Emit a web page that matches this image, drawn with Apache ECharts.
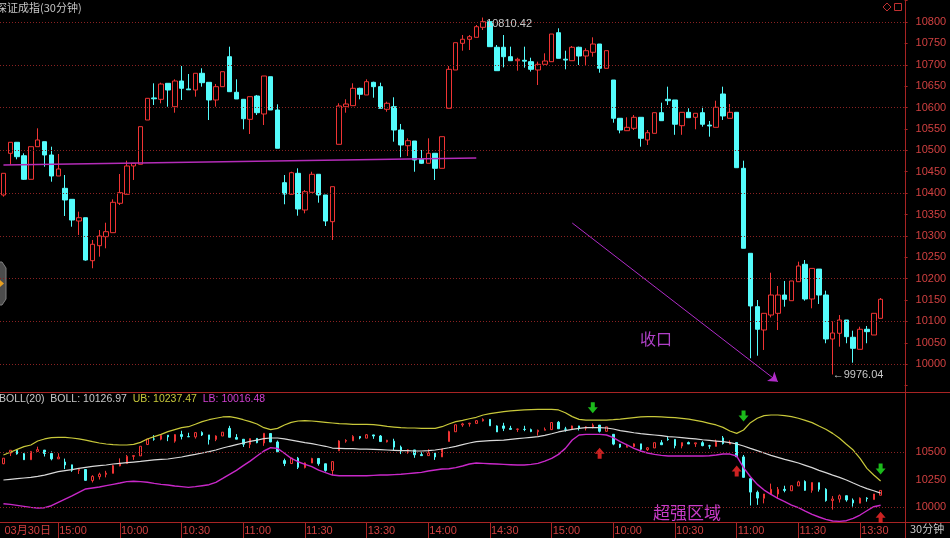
<!DOCTYPE html>
<html>
<head>
<meta charset="utf-8">
<script src="https://cdn.jsdelivr.net/npm/echarts/dist/echarts.min.js"></script>
<style>
html,body{margin:0;padding:0;background:#000;}
#c{width:950px;height:538px;}
</style>
</head>
<body>
<div id="c"></div>
<script>
// ---------- DATA ----------
const candleOpen = [10395.6,10493.0,10518.8,10487.4,10432.3,10508.5,10520.2,10489.1,10440.0,10411.2,
10385.5,10334.8,10342.5,10242.0,10277.1,10298.1,10307.5,10376.2,10397.2,10463.4,
10467.4,10570.9,10622.5,10619.3,10656.7,10602.0,10662.1,10643.5,10641.0,10680.1,
10659.0,10617.7,10648.8,10718.9,10635.7,10619.3,10572.5,10627.0,10585.0,10672.1,
10594.3,10424.4,10397.2,10446.3,10360.5,10401.9,10444.0,10395.6,10333.2,10514.1,
10602.0,10604.4,10645.0,10629.4,10659.0,10648.8,10595.9,10602.0,10547.5,10510.8,
10521.8,10479.0,10469.7,10493.1,10458.0,10598.3,10687.8,10750.2,10759.6,10764.2,
10787.6,10800.7,10740.9,10740.9,10718.9,10709.5,10710.5,10707.2,10687.8,10701.1,
10707.2,10775.0,10713.0,10709.5,10740.9,10720.5,10729.2,10748.5,10691.8,10664.4,
10574.9,10545.9,10551.5,10577.2,10524.2,10539.8,10588.0,10619.3,10617.7,10557.6,
10588.9,10577.2,10588.0,10559.0,10553.8,10631.7,10574.9,10588.9,10458.0,10259.3,
10134.5,10080.0,10115.0,10119.0,10161.8,10148.5,10192.9,10233.6,10152.5,10222.4,
10161.8,10059.0,10072.3,10103.4,10063.0,10034.9,10081.7,10068.3,10107.3];
const candleClose = [10446.3,10518.8,10485.1,10432.3,10508.5,10524.2,10489.1,10440.0,10456.4,10383.9,
10337.1,10342.5,10243.6,10280.4,10299.8,10309.8,10378.5,10401.0,10463.4,10469.7,
10555.3,10621.6,10620.5,10655.0,10641.0,10662.1,10645.0,10641.5,10680.1,10658.1,
10617.7,10648.8,10683.8,10637.1,10620.0,10573.9,10625.4,10588.0,10673.8,10594.3,
10504.8,10397.9,10447.7,10362.9,10403.3,10444.0,10395.6,10334.8,10415.0,10603.6,
10608.3,10645.0,10631.0,10660.4,10648.8,10598.3,10610.0,10547.5,10512.5,10522.5,
10477.4,10469.7,10493.1,10458.0,10531.9,10689.4,10751.6,10759.6,10765.6,10789.0,
10800.7,10742.3,10686.2,10718.9,10709.5,10712.8,10708.5,10689.4,10701.1,10708.8,
10771.9,10715.1,10711.0,10740.9,10720.5,10732.9,10748.5,10691.8,10732.9,10574.9,
10547.5,10553.8,10577.2,10528.1,10541.2,10588.0,10569.3,10616.0,10561.0,10588.9,
10576.3,10586.6,10560.9,10557.0,10600.6,10580.3,10588.9,10459.4,10271.0,10136.2,
10081.7,10119.0,10161.8,10161.8,10151.8,10194.6,10229.6,10152.5,10224.0,10161.8,
10059.0,10073.0,10103.4,10064.4,10037.2,10081.7,10076.1,10119.0,10151.8];
const candleLow = [10391.6,10465.7,10479.0,10430.7,10432.3,10508.5,10461.7,10426.7,10440.0,10346.5,
10321.5,10302.1,10242.0,10224.3,10251.4,10271.0,10307.5,10372.2,10397.2,10430.7,
10467.4,10570.9,10606.0,10609.9,10602.0,10588.0,10617.7,10641.0,10625.4,10648.8,
10570.9,10602.0,10648.8,10637.1,10620.0,10549.2,10538.2,10582.6,10559.2,10594.3,
10504.8,10373.9,10397.2,10347.2,10352.8,10401.9,10377.6,10323.1,10290.4,10514.1,
10588.0,10604.4,10619.3,10629.4,10623.0,10598.3,10590.3,10520.2,10483.7,10486.8,
10450.0,10468.0,10469.7,10430.7,10458.0,10598.3,10687.8,10732.9,10734.5,10764.2,
10781.3,10742.3,10686.2,10694.1,10709.5,10686.2,10693.2,10684.2,10652.7,10701.1,
10707.2,10715.1,10689.4,10709.5,10699.5,10699.5,10718.9,10681.5,10691.8,10564.6,
10539.8,10545.9,10547.5,10508.5,10512.5,10539.8,10569.3,10606.0,10536.3,10536.3,
10576.3,10549.2,10555.3,10531.9,10553.8,10571.0,10574.9,10459.4,10271.0,10013.9,
10019.9,10033.3,10109.5,10080.0,10134.5,10148.5,10192.9,10148.5,10130.7,10140.8,
10049.0,9976.04,10041.0,10049.0,10003.6,10034.9,10049.0,10068.3,10107.3];
const candleHigh = [10446.3,10518.8,10519.5,10493.0,10508.5,10551.5,10520.2,10508.5,10491.4,10442.3,
10386.2,10356.6,10342.5,10290.4,10313.8,10330.8,10385.5,10444.7,10475.8,10469.7,
10555.3,10621.6,10656.7,10658.1,10656.7,10666.0,10697.1,10678.4,10680.1,10691.8,
10659.0,10655.1,10683.8,10742.3,10666.0,10619.3,10625.4,10629.4,10673.8,10672.1,
10607.6,10442.3,10450.0,10458.0,10407.3,10450.0,10444.0,10395.6,10415.0,10610.0,
10619.3,10656.7,10646.4,10666.0,10660.4,10658.1,10613.7,10624.0,10561.6,10528.1,
10521.8,10500.8,10528.1,10493.1,10531.9,10697.1,10751.6,10769.6,10769.6,10793.0,
10810.42,10802.3,10746.2,10769.6,10742.3,10716.5,10742.3,10716.5,10707.2,10726.8,
10771.9,10785.3,10732.9,10743.9,10742.3,10738.5,10764.2,10748.5,10732.9,10664.4,
10574.9,10577.2,10582.6,10577.2,10547.5,10588.0,10611.4,10648.8,10617.7,10588.9,
10598.3,10586.6,10602.0,10568.6,10616.0,10648.8,10608.3,10588.9,10475.8,10259.3,
10150.1,10119.0,10213.9,10182.9,10194.6,10194.6,10239.7,10243.6,10224.0,10222.4,
10171.9,10100.3,10115.0,10103.4,10078.4,10087.7,10089.4,10119.0,10154.8];

const bollUpper = [10475,10500,10527,10552,10567,10603,10622,10634,10637,10637,
10631,10622,10612,10597,10585,10576,10570,10567,10567,10573,
10591,10622,10643,10664,10689,10707,10725,10734,10756,10780,
10798,10811,10823,10826,10814,10798,10780,10759,10725,10707,
10719,10750,10774,10786,10789,10786,10780,10774,10768,10762,
10759,10756,10756,10756,10753,10747,10737,10731,10725,10722,
10722,10719,10719,10719,10734,10759,10780,10792,10807,10820,
10841,10853,10862,10871,10878,10884,10887,10890,10893,10893,
10893,10887,10862,10826,10801,10795,10795,10795,10795,10798,
10804,10811,10817,10823,10826,10826,10823,10820,10817,10811,
10804,10792,10780,10765,10750,10728,10695,10673,10704,10771,
10811,10835,10841,10841,10835,10826,10811,10792,10771,10740,
10710,10673,10628,10573,10521,10445,10353,10293,10237.47];
const bollMid = [10247,10253,10259,10265,10271,10280,10292,10308,10323,10332,
10341,10353,10363,10372,10378,10384,10393,10399,10405,10411,
10417,10424,10430,10436,10439,10448,10457,10469,10481,10494,
10506,10521,10539,10555,10570,10585,10600,10612,10625,10631,
10631,10622,10612,10600,10588,10579,10567,10555,10539,10536,
10533,10533,10530,10530,10527,10524,10521,10518,10515,10515,
10512,10512,10515,10521,10530,10542,10555,10570,10585,10597,
10603,10606,10609,10612,10619,10625,10631,10637,10643,10655,
10670,10686,10698,10710,10719,10725,10725,10725,10722,10713,
10698,10689,10679,10670,10664,10658,10652,10643,10640,10634,
10628,10622,10615,10609,10603,10597,10588,10576,10558,10536,
10515,10494,10472,10454,10436,10420,10402,10381,10360,10335,
10314,10292,10271,10247,10219,10192,10168,10149,10126.97];
const bollLower = [10030,10024,10015,10006,9997,9991,9994,10012,10043,10073,
10101,10134,10165,10174,10183,10195,10207,10219,10232,10235,
10232,10226,10216,10207,10201,10192,10186,10180,10186,10195,
10204,10226,10262,10299,10335,10378,10420,10466,10512,10542,
10536,10491,10445,10414,10390,10369,10338,10314,10292,10286,
10286,10286,10286,10286,10289,10292,10292,10296,10299,10305,
10311,10317,10329,10338,10347,10350,10360,10375,10393,10402,
10399,10396,10393,10390,10387,10384,10384,10390,10399,10420,
10445,10481,10536,10612,10658,10664,10664,10664,10658,10634,
10597,10567,10536,10512,10494,10481,10472,10466,10466,10466,
10466,10466,10466,10469,10475,10484,10484,10466,10360,10277,
10207,10155,10116,10079,10049,10018,9994,9963,9933,9909,
9887,9872,9869,9875,9896,9927,9966,10003,10016.48];

const timeLabelText = ['03月30日','15:00','10:00','10:30','11:00','11:30','13:30','14:00','14:30','15:00','10:00','10:30','11:00','11:30','13:30'];
const timeLabelIndex = [0,8,17,26,35,44,53,62,71,80,89,98,107,116,125];
const mainGridLevels = [10000,10100,10200,10300,10400,10500,10600,10700,10800];
const bollGridLevels = [10000,10500];
const trendLine = [[0,10465.7],[69,10482.0]];
const narrowArrow = [[83,10330.1],[113,9959.2]];
const highMark = [70,10810.42];
const lowMark = [121,9976.04];
const greenSignals = [[86,10907.7],[108,10831.8],[128,10347.3]];
const redSignals = [[87,10490.9],[107,10329.1],[128,9905.8]];

// ---------- BUILD ----------
const NCAT = 132;
const categories = Array.from({length: NCAT}, (_, i) => 'k' + i);
const labelMap = {};
timeLabelIndex.forEach((idx, k) => { labelMap[idx] = timeLabelText[k]; });
const candles = candleOpen.map((o, i) => [o, candleClose[i], candleLow[i], candleHigh[i]]);

const RED = '#f03434', CYAN = '#54fcfc', FRAME = '#a82424', AXTXT = '#d04040';
const FONT = 'Liberation Sans, Arial, Noto Sans CJK SC, sans-serif';
const CJK = 'Noto Sans CJK SC, sans-serif';

const chart = echarts.init(document.getElementById('c'), null, {renderer: 'canvas'});
const last = bollMid.length - 1;

chart.setOption({
  backgroundColor: '#000',
  animation: false,
  grid: [
    {left: -1.8, width: 906.4, top: 0.61, height: 385.0},
    {left: -1.8, width: 906.4, top: 397.6, height: 123.1}
  ],
  xAxis: [
    {type: 'category', gridIndex: 0, data: categories, boundaryGap: true, show: false},
    {type: 'category', gridIndex: 1, data: categories, boundaryGap: true, offset: 1.5,
     axisLine: {show: false},
     axisTick: {show: true, alignWithLabel: true, length: 16, lineStyle: {color: FRAME},
       interval: (i) => labelMap[i] !== undefined && i !== 0},
     axisLabel: {show: true, interval: (i) => labelMap[i] !== undefined,
       formatter: (v, i) => labelMap[i] || '', align: 'left', margin: 3,
       padding: [0,0,0,1], color: AXTXT, fontSize: 11, fontFamily: FONT},
     splitLine: {show: false}}
  ],
  yAxis: [
    {type: 'value', gridIndex: 0, position: 'right', min: 9950, max: 10850, interval: 50,
     axisLine: {show: false},
     axisTick: {show: true, length: 3, lineStyle: {color: FRAME}},
     axisLabel: {color: AXTXT, fontSize: 11, fontFamily: FONT, margin: 11,
       formatter: (v) => (v <= 9950 || v >= 10850) ? '' : String(v)},
     splitLine: {show: false}},
    {type: 'value', gridIndex: 1, position: 'right', min: 9875, max: 11000, interval: 125,
     axisLine: {show: false},
     axisTick: {show: false},
     axisLabel: {color: AXTXT, fontSize: 11, fontFamily: FONT, margin: 11,
       formatter: (v) => (v % 250 === 0 && v <= 10500) ? String(v) : ''},
     splitLine: {show: false}}
  ],
  series: [
    {type: 'candlestick', xAxisIndex: 0, yAxisIndex: 0, data: candles, barWidth: 5,
     itemStyle: {color: 'rgba(0,0,0,0)', color0: CYAN, borderColor: RED, borderColor0: CYAN, borderWidth: 1},
     markLine: {silent: true, symbol: ['none','none'], label: {show: false},
       lineStyle: {color: '#8a2222', type: [1,2], width: 1},
       data: mainGridLevels.map(v => ({yAxis: v}))},
     markPoint: {silent: true, symbol: 'circle', symbolSize: 0,
       data: [
         {coord: highMark, label: {show: true, position: 'right', distance: 3, offset: [0, 6],
           formatter: String(highMark[1].toFixed(2)), color: '#c8c8c8', fontSize: 11, fontFamily: FONT}},
         {coord: lowMark, label: {show: true, position: 'right', distance: 0, offset: [0, 0],
           formatter: '\u2190' + lowMark[1].toFixed(2), color: '#c8c8c8', fontSize: 11, fontFamily: FONT}}
       ]}},
    {type: 'line', xAxisIndex: 0, yAxisIndex: 0, data: trendLine, symbol: 'none',
     lineStyle: {color: '#b42cb8', width: 1.5}, silent: true,
     markLine: {silent: true, symbol: ['none','arrow'], symbolSize: 9, label: {show: false},
       lineStyle: {color: '#b02cc8', width: 1, type: 'solid'},
       data: [[{coord: narrowArrow[0]}, {coord: narrowArrow[1]}]]}},
    {type: 'candlestick', xAxisIndex: 1, yAxisIndex: 1, data: candles, barWidth: 2, clip: false,
     itemStyle: {color: 'rgba(0,0,0,0)', color0: CYAN, borderColor: RED, borderColor0: CYAN, borderWidth: 1}},
    {type: 'line', xAxisIndex: 1, yAxisIndex: 1, data: bollMid, symbol: 'none', clip: false,
     lineStyle: {color: '#d8d8d8', width: 1.2}, silent: true,
     markLine: {silent: true, symbol: ['none','none'], label: {show: false},
       lineStyle: {color: '#8a2222', type: [1,2], width: 1},
       data: bollGridLevels.map(v => ({yAxis: v}))}},
    {type: 'line', xAxisIndex: 1, yAxisIndex: 1, data: bollUpper, symbol: 'none', clip: false,
     lineStyle: {color: '#c8c83a', width: 1.2}, silent: true},
    {type: 'line', xAxisIndex: 1, yAxisIndex: 1, data: bollLower, symbol: 'none', clip: false,
     lineStyle: {color: '#c828c8', width: 1.4}, silent: true},
    {type: 'scatter', xAxisIndex: 1, yAxisIndex: 1, data: greenSignals, clip: false,
     symbol: 'path://M3,0 L7,0 L7,5 L10,5 L5,11 L0,5 L3,5 Z', symbolSize: [10, 11],
     itemStyle: {color: '#22e822'}, silent: true},
    {type: 'scatter', xAxisIndex: 1, yAxisIndex: 1, data: redSignals, clip: false,
     symbol: 'path://M5,0 L10,6 L7,6 L7,11 L3,11 L3,6 L0,6 Z', symbolSize: [10, 11],
     itemStyle: {color: '#ff2a2a'}, silent: true}
  ],
  graphic: [
    {type: 'line', shape: {x1: 0, y1: 392.5, x2: 950, y2: 392.5}, style: {stroke: FRAME, lineWidth: 1}, silent: true},
    {type: 'line', shape: {x1: 0, y1: 522.5, x2: 950, y2: 522.5}, style: {stroke: FRAME, lineWidth: 1}, silent: true},
    {type: 'line', shape: {x1: 905.5, y1: 0, x2: 905.5, y2: 538}, style: {stroke: FRAME, lineWidth: 1}, silent: true},
    {type: 'text', left: -4, top: 2, silent: true,
     style: {text: '深证成指(30分钟)', fill: '#c4c4c4', font: '11px ' + CJK}},
    {type: 'text', left: -1, top: 394, silent: true,
     style: {text: '{a|BOLL(20)  BOLL: ' + bollMid[last].toFixed(2) + '}  {b|UB: ' + bollUpper[last].toFixed(2) + '}  {c|LB: ' + bollLower[last].toFixed(2) + '}',
       font: '10.5px ' + FONT,
       rich: {a: {fill: '#c8c8c8', fontSize: 10.5, fontFamily: FONT},
              b: {fill: '#c8c83a', fontSize: 10.5, fontFamily: FONT},
              c: {fill: '#d040d0', fontSize: 10.5, fontFamily: FONT}}}},
    {type: 'text', left: 640, top: 331, silent: true,
     style: {text: '收口', fill: '#b040c8', font: '16px ' + CJK}},
    {type: 'text', left: 653, top: 504, silent: true,
     style: {text: '超强区域', fill: '#c83cc8', font: '17px ' + CJK}},
    {type: 'text', left: 910, top: 523, silent: true,
     style: {text: '30分钟', fill: '#c8c8c8', font: '11px ' + CJK}},
    {type: 'polygon', shape: {points: [[887,3],[891,7],[887,11],[883,7]]}, style: {fill: 'none', stroke: '#c03030', lineWidth: 1}, silent: true},
    {type: 'rect', shape: {x: 894.5, y: 3.5, width: 7, height: 7}, style: {fill: 'none', stroke: '#c03030', lineWidth: 1}, silent: true},
    {type: 'polygon', shape: {points: [[-3,262],[2,262],[6,268],[6,299],[2,305],[-3,305]]}, style: {fill: '#4c4c4c', stroke: '#808080', lineWidth: 1}, silent: true},
    {type: 'polygon', shape: {points: [[0,280],[4,283.5],[0,287]]}, style: {fill: '#e8a020'}, silent: true}
  ]
});
</script>
</body>
</html>
